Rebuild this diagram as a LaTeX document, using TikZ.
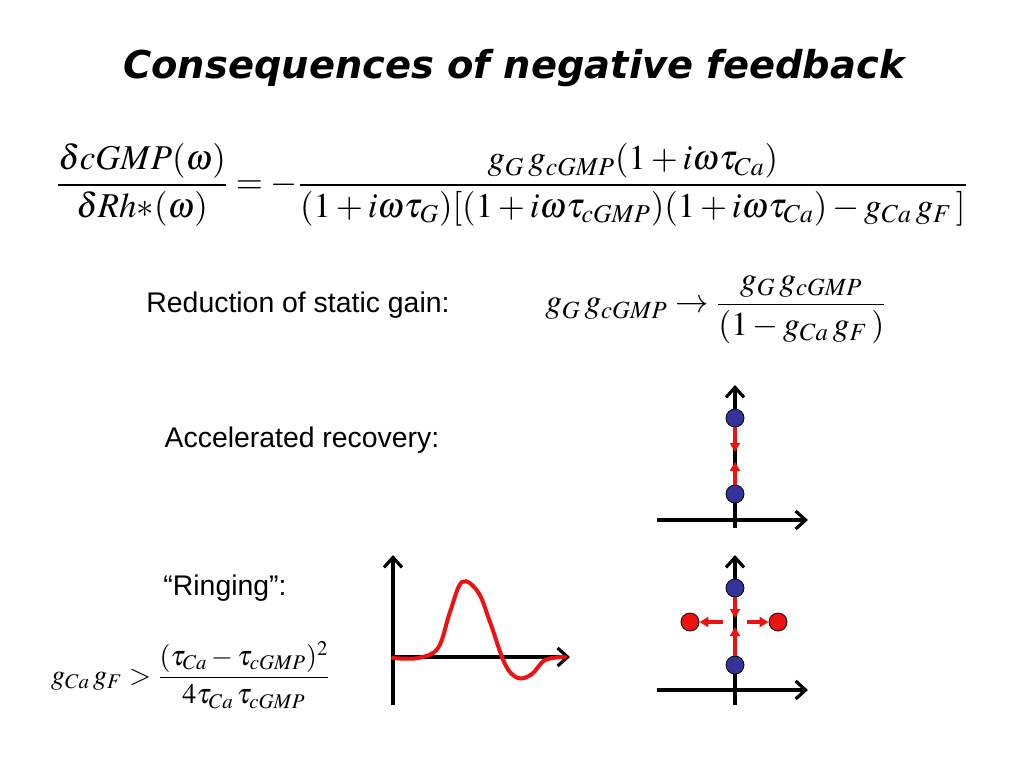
\documentclass[tikz,border=0pt]{standalone}
\usepackage{mathptmx}
\usepackage{fontspec}
\setmainfont{Liberation Sans}
\newfontfamily\titlefont{DejaVu Sans}
\usetikzlibrary{arrows.meta, positioning}
\definecolor{poleblue}{HTML}{333399}
\definecolor{polered}{HTML}{EE1111}

\begin{document}
\begin{tikzpicture}[x=0.5pt, y=-0.5pt,
            every node/.style={inner sep=0pt},
            axis/.style={line width=1.6pt, -{Straight Barb[length=5pt,width=9pt]}},
            poleshift/.style={polered, line width=1.8pt, -{Triangle[length=4.5pt,width=5pt]}},
            pole/.style={circle, draw=black, line width=0.4pt, minimum size=9pt},
            textlabel/.style={font=\fontsize{14.2}{17}\selectfont},
            formula/.style={font=\fontsize{17.4}{21}\selectfont}]
            \useasboundingbox (0,0) rectangle (1024,768);
            % title and transfer function
            \node[font=\titlefont\bfseries\itshape\fontsize{19.2}{23}\selectfont] (title) at (514,68) {Consequences of negative feedback};
            \node[formula] (tf) at (512,185) {$\displaystyle \frac{\delta cGMP(\omega)}{\delta Rh{*}(\omega)} = -\frac{g_G\, g_{cGMP}(1+i\omega\tau_{Ca})}{(1+i\omega\tau_G)[(1+i\omega\tau_{cGMP})(1+i\omega\tau_{Ca}) - g_{Ca}\,g_F\,]}$};
            % static gain
            \node[textlabel] (gain) at (298,305) {Reduction of static gain:};
            \node[formula, font=\fontsize{16.7}{20}\selectfont] (gaineq) at (716,310) {$\displaystyle g_G\, g_{cGMP} \rightarrow \frac{g_G\, g_{cGMP}}{(1-g_{Ca}\,g_F\,)}$};
            % accelerated recovery
            \node[textlabel] (recov) at (302,440) {Accelerated recovery:};
            \coordinate (a1s) at (735,528);
            \coordinate (a1n) at (735,385);
            \coordinate (a1w) at (657,520);
            \coordinate (a1e) at (808,520);
            \draw[axis] (a1s) -- (a1n);
            \draw[axis] (a1w) -- (a1e);
            \node[pole, fill=poleblue] (p1) at (735,418) {};
            \node[pole, fill=poleblue] (p2) at (735,494) {};
            \draw[poleshift] (p1) -- (735,452);
            \draw[poleshift] (p2) -- (735,462);
            % ringing
            \node[textlabel] (ring) at (225,588) {``Ringing'':};
            \node[formula, font=\fontsize{14.1}{17}\selectfont] (cond) at (191,675) {$\displaystyle g_{Ca}\,g_F > \frac{(\tau_{Ca}-\tau_{cGMP})^2}{4\tau_{Ca}\,\tau_{cGMP}}$};
            \coordinate (a2s) at (393,705);
            \coordinate (a2n) at (393,555);
            \coordinate (a2w) at (393,657);
            \coordinate (a2e) at (570,657);
            \draw[axis] (a2s) -- (a2n);
            \draw[axis] (a2w) -- (a2e);
            \draw[polered, line width=2pt, line cap=round] plot[smooth, tension=0.6] coordinates {(393,658) (418,658) (438,648) (450,612) (462,582) (478,592) (490,622) (505,664) (518,678) (532,674) (545,660) (565,657)};
            \coordinate (a3s) at (735,705);
            \coordinate (a3n) at (735,555);
            \coordinate (a3w) at (657,690);
            \coordinate (a3e) at (808,690);
            \draw[axis] (a3s) -- (a3n);
            \draw[axis] (a3w) -- (a3e);
            \node[pole, fill=poleblue] (p3) at (735,588) {};
            \node[pole, fill=poleblue] (p4) at (735,665) {};
            \node[pole, fill=polered] (p5) at (690,622) {};
            \node[pole, fill=polered] (p6) at (778,622) {};
            \coordinate (mw) at (723,622);
            \coordinate (me) at (747,622);
            \draw[poleshift] (p3) -- (735,618);
            \draw[poleshift] (p4) -- (735,627);
            \draw[poleshift] (mw) -- (p5);
            \draw[poleshift] (me) -- (p6);
        \end{tikzpicture}
\end{document}
